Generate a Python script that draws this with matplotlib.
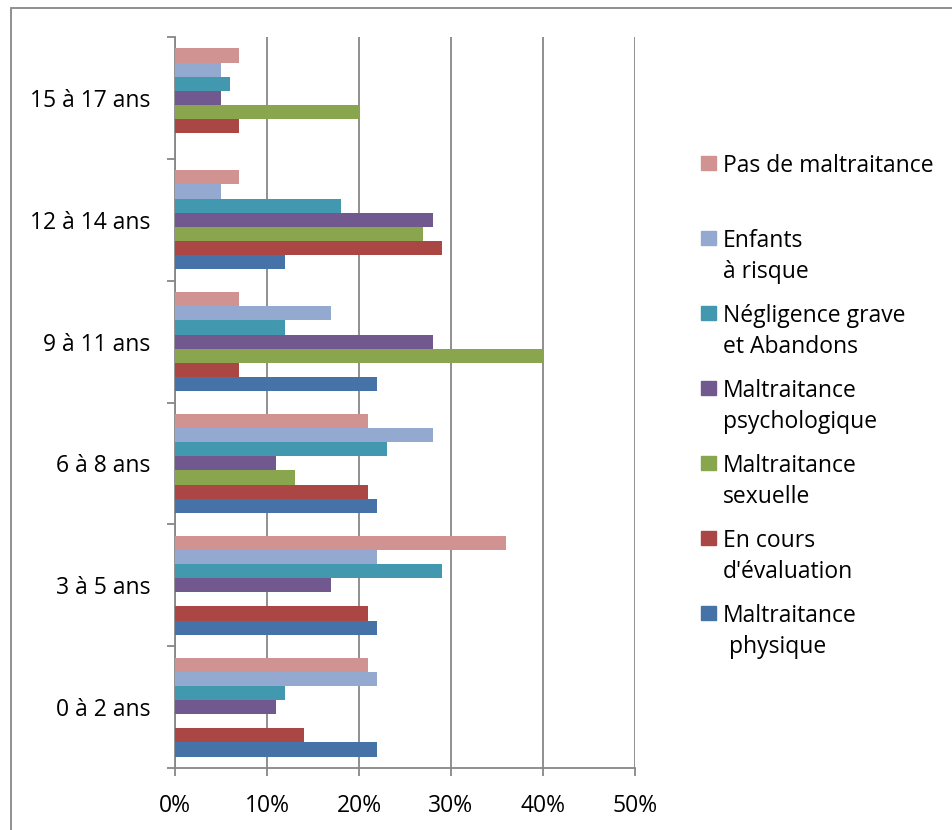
import numpy as np
import matplotlib.pyplot as plt
from matplotlib.patches import Rectangle
from matplotlib.ticker import FixedLocator, PercentFormatter

plt.rcParams['font.family'] = ['Open Sans', 'DejaVu Sans']

# age groups, bottom to top
ages = ['0 à 2 ans', '3 à 5 ans', '6 à 8 ans', '9 à 11 ans', '12 à 14 ans', '15 à 17 ans']

# series, drawn bottom to top inside each group
series = ['Maltraitance\n physique', "En cours\nd'évaluation", 'Maltraitance\nsexuelle',
          'Maltraitance\npsychologique', 'Négligence grave\net Abandons',
          'Enfants\nà risque', 'Pas de maltraitance']
colors = ['#4572A7', '#AA4643', '#89A54E', '#71588F', '#4198AF', '#93A9CF', '#D09392']

physique     = [22, 22, 22, 22, 12, 0]
evaluation   = [14, 21, 21, 7, 29, 7]
sexuelle     = [0, 0, 13, 40, 27, 20]
psycho       = [11, 17, 11, 28, 28, 5]
negligence   = [12, 29, 23, 12, 18, 6]
risque       = [22, 22, 28, 17, 5, 5]
pas_maltrait = [21, 36, 21, 7, 7, 7]
values = [physique, evaluation, sexuelle, psycho, negligence, risque, pas_maltrait]

grey = '#878787'
W, H = 953, 830
fig = plt.figure(figsize=(W / 100, H / 100), dpi=100)
ax = fig.add_axes([175 / W, 1 - 768 / H, 460 / W, 731 / H])

y = np.arange(len(ages))
h = 0.116
for j, vals in enumerate(values):
    ax.barh(y + (j - 3) * h, vals, height=h, color=colors[j], zorder=3)

ax.set_xlim(0, 50)
ax.set_ylim(-0.5, len(ages) - 0.5)
ax.xaxis.set_major_locator(FixedLocator([0, 10, 20, 30, 40, 50]))
ax.xaxis.set_major_formatter(PercentFormatter(decimals=0))
ax.grid(axis='x', color=grey, linewidth=1.3, zorder=0)

# category ticks sit between the groups, labels at group centres
ax.set_yticks(np.arange(-0.5, len(ages)), minor=False)
ax.set_yticklabels([])
ax.set_yticks(y, minor=True)
ax.set_yticklabels(ages, minor=True)
ax.tick_params(axis='y', which='major', length=6, width=1.3, color=grey)
ax.tick_params(axis='y', which='minor', length=0, pad=18, labelsize=16.5)
ax.tick_params(axis='x', length=6, width=1.3, color=grey, pad=13, labelsize=16.5)

for s in ['top', 'right']:
    ax.spines[s].set_visible(False)
for s in ['left', 'bottom']:
    ax.spines[s].set_color(grey)
    ax.spines[s].set_linewidth(1.3)

# legend, top entry first
for k, j in enumerate(range(len(series) - 1, -1, -1)):
    yc = 1 - (163 + 75 * k) / H
    fig.patches.append(Rectangle((701 / W, yc - 7 / H), 15 / W, 14 / H,
                                 transform=fig.transFigure, color=colors[j]))
    fig.text(723 / W, yc + 9 / H, series[j], fontsize=16.5, va='top',
             linespacing=1.4)

# chart border
fig.patches.append(Rectangle((11 / W, -0.1), 1.2, 1.1 - 8 / H, transform=fig.transFigure,
                             fill=False, edgecolor=grey, linewidth=1.3))

fig.savefig('out.png', dpi=100)
